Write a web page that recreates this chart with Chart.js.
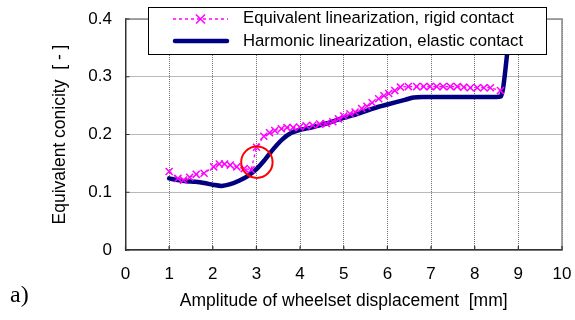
<!DOCTYPE html>
<html><head><meta charset="utf-8">
<script src="https://cdn.jsdelivr.net/npm/chart.js@4"></script>
<style>
html,body{margin:0;padding:0;background:#fff;}
#wrap{position:relative;width:575px;height:320px;overflow:hidden;}
#lbl{position:absolute;left:10px;top:281px;font:24px "Liberation Serif","Times New Roman",serif;color:#000;}
</style></head><body>
<div id="wrap"><canvas id="c" width="575" height="320"></canvas><div id="lbl">a)</div></div>
<script>
// ---- data ----
const eqX = [1.00,1.20,1.33,1.47,1.62,1.80,2.02,2.15,2.27,2.40,2.55,2.72,2.88,3.00,3.17,3.30,3.42,3.57,3.70,3.84,3.99,4.14,4.29,4.45,4.60,4.75,4.88,5.00,5.14,5.26,5.41,5.53,5.65,5.80,5.92,6.03,6.17,6.30,6.48,6.67,6.83,6.98,7.13,7.28,7.44,7.60,7.75,7.90,8.06,8.21,8.36,8.59];
const eqY = [0.136,0.124,0.121,0.126,0.131,0.133,0.144,0.149,0.149,0.147,0.144,0.141,0.139,0.178,0.197,0.203,0.207,0.210,0.212,0.212,0.213,0.215,0.216,0.218,0.219,0.222,0.227,0.232,0.236,0.239,0.245,0.249,0.255,0.262,0.267,0.271,0.276,0.282,0.283,0.283,0.283,0.283,0.283,0.283,0.283,0.283,0.282,0.281,0.281,0.281,0.281,0.276];
const harmX = [1.0,1.2,1.4,1.6,1.8,2.0,2.2,2.4,2.6,2.8,3.0,3.2,3.4,3.6,3.8,4.0,4.2,4.4,4.6,4.8,5.0,5.2,5.4,5.6,5.8,6.0,6.2,6.4,6.6,6.8,7.0,7.5,8.0,8.5,8.6,8.65,8.7,8.75,8.8,8.85];
const harmY = [0.124,0.121,0.119,0.118,0.116,0.113,0.111,0.114,0.120,0.128,0.140,0.157,0.176,0.192,0.203,0.208,0.211,0.215,0.219,0.224,0.229,0.233,0.238,0.243,0.248,0.252,0.256,0.260,0.264,0.265,0.265,0.265,0.265,0.265,0.266,0.280,0.310,0.345,0.380,0.420];
const xTicks = [0,1,2,3,4,5,6,7,8,9,10];
const yTicks = [0,0.1,0.2,0.3,0.4];
const seriesLabels = ['Equivalent linearization, rigid contact','Harmonic linearization, elastic contact'];
const xTitle = 'Amplitude of wheelset displacement  [mm]';
const yTitle = 'Equivalent conicity  [ - ]';
const highlight = {x:3.01, y:0.152};

const MAG = '#ff00ff', NAVY = '#000080';
const FONT = '"Liberation Sans", Arial, sans-serif';

const frame = {
  id:'frame',
  beforeDatasetsDraw(chart){
    const {ctx, chartArea:a, scales} = chart;
    ctx.save();
    ctx.strokeStyle = '#8a8a8a'; ctx.lineWidth = 1.5;
    ctx.beginPath();
    ctx.moveTo(a.left, a.top); ctx.lineTo(a.right, a.top); ctx.lineTo(a.right, a.bottom);
    ctx.stroke();
    ctx.strokeStyle = '#333'; ctx.lineWidth = 1.2;
    ctx.beginPath();
    xTicks.forEach(v=>{const p=scales.x.getPixelForValue(v); ctx.moveTo(p,a.bottom); ctx.lineTo(p,a.bottom-4);});
    yTicks.forEach(v=>{const p=scales.y.getPixelForValue(v); ctx.moveTo(a.left,p); ctx.lineTo(a.left+4,p);});
    ctx.stroke();
    ctx.restore();
  },
  afterDatasetsDraw(chart){
    const {ctx, scales} = chart;
    ctx.save();
    ctx.strokeStyle = '#ff0000'; ctx.lineWidth = 2;
    ctx.beginPath();
    ctx.arc(scales.x.getPixelForValue(highlight.x), scales.y.getPixelForValue(highlight.y), 15.7, 0, Math.PI*2);
    ctx.stroke();
    ctx.restore();
  },
  afterDraw(chart){
    const ctx = chart.ctx;
    ctx.save();
    ctx.fillStyle = '#fff'; ctx.fillRect(148,7,398,47);
    ctx.strokeStyle = '#000'; ctx.lineWidth = 1; ctx.strokeRect(148.5,7.5,398,47);
    // row 1
    ctx.strokeStyle = MAG; ctx.lineWidth = 1.5; ctx.setLineDash([3,3]);
    ctx.beginPath(); ctx.moveTo(173,19); ctx.lineTo(228,19); ctx.stroke();
    ctx.setLineDash([]);
    ctx.beginPath(); ctx.moveTo(196,14.5); ctx.lineTo(205,23.5); ctx.moveTo(205,14.5); ctx.lineTo(196,23.5); ctx.stroke();
    // row 2
    ctx.strokeStyle = NAVY; ctx.lineWidth = 4.5; ctx.lineCap = 'round';
    ctx.beginPath(); ctx.moveTo(175,41); ctx.lineTo(227,41); ctx.stroke();
    ctx.fillStyle = '#000'; ctx.font = '16.7px ' + FONT; ctx.textBaseline = 'middle';
    ctx.fillText(seriesLabels[0], 243, 18.5);
    ctx.fillText(seriesLabels[1], 243, 41);
    ctx.restore();
  }
};

new Chart(document.getElementById('c'), {
  type:'line',
  data:{datasets:[
    {label:seriesLabels[0], data:eqX.map((x,i)=>({x, y:eqY[i]})), borderColor:MAG, borderWidth:1.3, borderDash:[3,3],
     pointStyle:'crossRot', pointRadius:5, pointBorderColor:MAG, pointBorderWidth:1.5, pointBackgroundColor:MAG, tension:0},
    {label:seriesLabels[1], data:harmX.map((x,i)=>({x, y:harmY[i]})), borderColor:NAVY, borderWidth:4.5, pointRadius:0,
     cubicInterpolationMode:'monotone', borderCapStyle:'round', borderJoinStyle:'round'}
  ]},
  options:{
    responsive:false, animation:false, devicePixelRatio:1,
    layout:{padding:{top:19,right:13,left:0,bottom:0}},
    plugins:{legend:{display:false}, tooltip:{enabled:false}},
    scales:{
      x:{type:'linear', min:0, max:10,
        afterBuildTicks:s=>{s.ticks = xTicks.map(v=>({value:v}));},
        ticks:{font:{family:FONT,size:17}, color:'#000', padding:14, maxRotation:0, autoSkip:false},
        grid:{color:'#707070', lineWidth:1, drawTicks:false},
        border:{display:true, color:'#333', width:1.5, dash:[1,1]},
        title:{display:true, text:xTitle, font:{family:FONT,size:17.5}, color:'#000', padding:{top:0,bottom:8}},
        afterFit:s=>{s.height=70; s.paddingLeft=0; s.paddingRight=0;}
      },
      y:{type:'linear', min:0, max:0.4,
        afterBuildTicks:s=>{s.ticks = yTicks.map(v=>({value:v}));},
        ticks:{font:{family:FONT,size:17}, color:'#000', padding:13.5, callback:v=>v===0?'0':v.toFixed(1)},
        grid:{color:'#707070', lineWidth:1, drawTicks:false},
        border:{display:true, color:'#333', width:1.5, dash:[1,1]},
        title:{display:true, text:yTitle, font:{family:FONT,size:17.5}, color:'#000', padding:{top:49.5,bottom:0}},
        afterFit:s=>{s.width=125.5; s.paddingTop=0; s.paddingBottom=0;}
      }
    }
  },
  plugins:[frame]
});
</script>
</body></html>
